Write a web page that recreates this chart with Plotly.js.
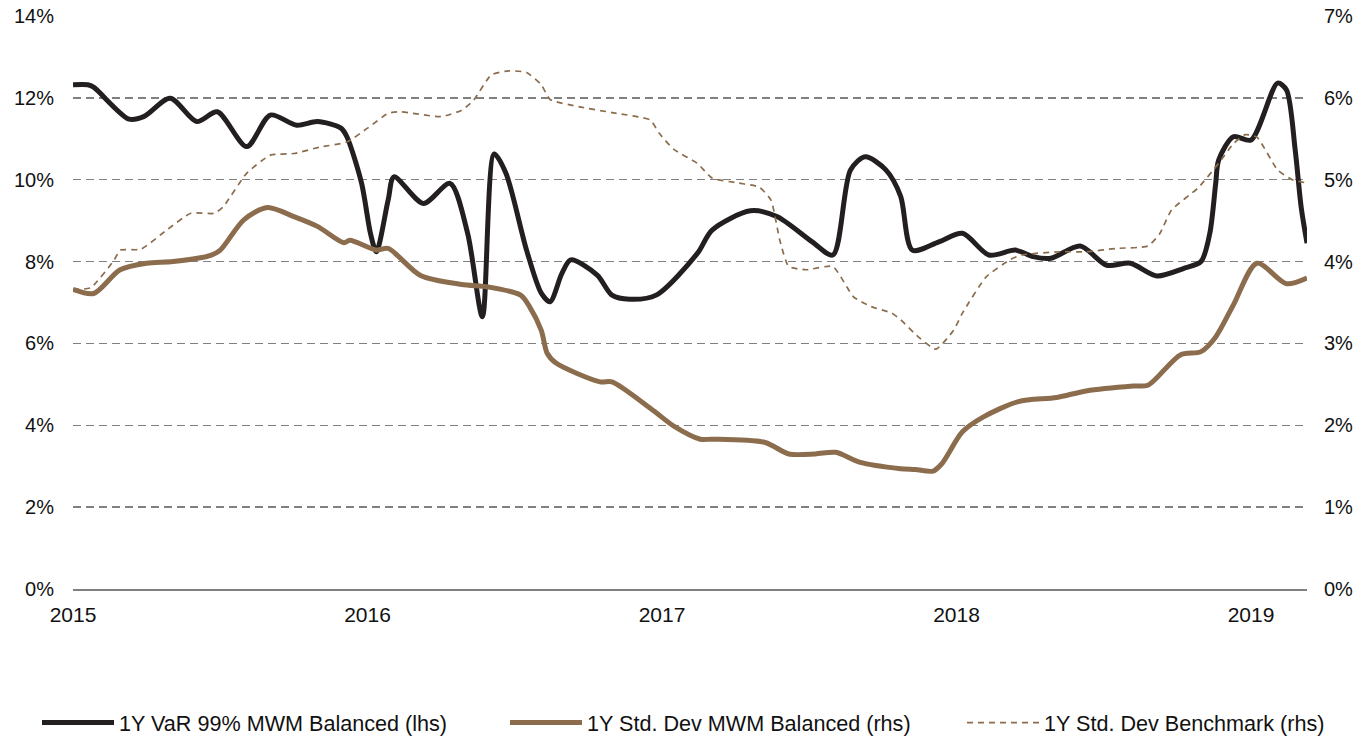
<!DOCTYPE html>
<html>
<head>
<meta charset="utf-8">
<script src="https://cdn.plot.ly/plotly-3.0.1.min.js"></script>
<style>html,body{margin:0;padding:0;background:#fff;}#chart{width:1363px;height:738px;}</style>
</head>
<body>
<div id="chart"></div>
<script>
// 1Y VaR 99% MWM Balanced (lhs), x in decimal years
const varX = [2015.00,2015.05,2015.07,2015.19,2015.24,2015.33,2015.42,2015.49,2015.59,2015.67,2015.76,2015.83,2015.91,2015.93,2015.98,2016.01,2016.03,2016.07,2016.09,2016.19,2016.28,2016.34,2016.39,2016.43,2016.47,2016.54,2016.59,2016.62,2016.66,2016.69,2016.78,2016.83,2016.89,2016.98,2017.12,2017.17,2017.30,2017.39,2017.51,2017.58,2017.64,2017.69,2017.76,2017.81,2017.85,2017.94,2018.02,2018.11,2018.20,2018.26,2018.32,2018.42,2018.51,2018.59,2018.68,2018.77,2018.83,2018.86,2018.88,2018.89,2018.94,2019.00,2019.09,2019.12,2019.15,2019.17,2019.19];
const varY = [12.32,12.32,12.26,11.48,11.54,11.99,11.42,11.66,10.81,11.58,11.33,11.42,11.26,11.05,9.91,8.69,8.24,9.50,10.07,9.42,9.91,8.69,6.65,10.63,10.16,8.28,7.23,7.02,7.71,8.04,7.67,7.18,7.08,7.18,8.20,8.77,9.24,9.10,8.48,8.16,10.24,10.56,10.24,9.60,8.28,8.48,8.69,8.16,8.28,8.12,8.08,8.38,7.91,7.96,7.65,7.83,8.00,8.69,9.91,10.48,11.05,10.97,12.36,12.20,10.72,9.34,8.45];

// 1Y Std. Dev MWM Balanced (rhs)
const sdX = [2015.00,2015.07,2015.16,2015.25,2015.34,2015.47,2015.50,2015.58,2015.66,2015.75,2015.83,2015.92,2015.94,2016.03,2016.07,2016.18,2016.32,2016.41,2016.52,2016.55,2016.59,2016.61,2016.64,2016.79,2016.83,2016.97,2017.04,2017.13,2017.17,2017.35,2017.43,2017.52,2017.59,2017.67,2017.81,2017.86,2017.92,2017.95,2018.02,2018.09,2018.21,2018.34,2018.44,2018.60,2018.65,2018.76,2018.83,2018.88,2018.94,2019.02,2019.12,2019.19];
const sdY = [3.66,3.61,3.90,3.98,4.00,4.08,4.14,4.51,4.66,4.55,4.43,4.23,4.26,4.14,4.16,3.83,3.72,3.69,3.59,3.45,3.16,2.88,2.76,2.53,2.53,2.18,1.99,1.83,1.83,1.79,1.65,1.65,1.67,1.55,1.47,1.46,1.44,1.53,1.92,2.10,2.29,2.34,2.42,2.48,2.49,2.86,2.90,3.08,3.47,3.98,3.73,3.80];

// 1Y Std. Dev Benchmark (rhs)
const bmX = [2015.00,2015.06,2015.14,2015.16,2015.23,2015.32,2015.40,2015.48,2015.51,2015.59,2015.67,2015.75,2015.84,2015.93,2016.00,2016.07,2016.11,2016.25,2016.32,2016.36,2016.42,2016.48,2016.54,2016.59,2016.62,2016.72,2016.83,2016.96,2016.99,2017.04,2017.12,2017.17,2017.26,2017.33,2017.37,2017.40,2017.43,2017.49,2017.58,2017.65,2017.71,2017.78,2017.81,2017.87,2017.93,2017.99,2018.02,2018.10,2018.18,2018.22,2018.35,2018.44,2018.54,2018.65,2018.69,2018.73,2018.82,2018.89,2018.94,2018.98,2019.02,2019.09,2019.14,2019.19];
const bmY = [3.66,3.68,4.02,4.14,4.15,4.39,4.59,4.59,4.67,5.08,5.30,5.32,5.40,5.46,5.63,5.81,5.83,5.77,5.85,5.97,6.28,6.33,6.31,6.16,5.98,5.89,5.82,5.73,5.57,5.37,5.20,5.02,4.96,4.91,4.75,4.26,3.94,3.90,3.94,3.57,3.45,3.37,3.29,3.08,2.93,3.16,3.37,3.81,4.02,4.08,4.12,4.12,4.16,4.19,4.34,4.63,4.90,5.20,5.44,5.55,5.52,5.12,5.00,4.96];

const yearTicks = [2015, 2016, 2017, 2018, 2019];
const yearLabels = ['2015', '2016', '2017', '2018', '2019'];

const traces = [
  {x: varX, y: varY, name: '1Y VaR 99% MWM Balanced (lhs)', type: 'scatter', mode: 'lines',
   line: {color: '#231f20', width: 5, shape: 'spline', smoothing: 0.8}, yaxis: 'y', legend: 'legend'},
  {x: sdX, y: sdY, name: '1Y Std. Dev MWM Balanced (rhs)', type: 'scatter', mode: 'lines',
   line: {color: '#8b6d4e', width: 5, shape: 'spline', smoothing: 0.8}, yaxis: 'y2', legend: 'legend2'},
  {x: bmX, y: bmY, name: '1Y Std. Dev Benchmark (rhs)', type: 'scatter', mode: 'lines',
   line: {color: '#8b6d4e', width: 1.7, dash: '6px,5px', shape: 'spline', smoothing: 0.5}, yaxis: 'y2', legend: 'legend3'}
];

const fam = '"Liberation Sans", Arial, sans-serif';
const yFont = {family: fam, size: 20, color: '#111'};
const xFont = {family: fam, size: 21, color: '#111'};
const lFont = {family: fam, size: 21.6, color: '#111'};

function legendAt(px) {
  return {
    orientation: 'h', x: (px - 73) / 1234, xanchor: 'left', y: -0.234, yanchor: 'middle',
    font: lFont, itemwidth: 72, bgcolor: 'rgba(0,0,0,0)'
  };
}

const layout = {
  width: 1363, height: 738,
  margin: {l: 73, r: 56, t: 16, b: 149, autoexpand: false},
  paper_bgcolor: '#fff', plot_bgcolor: '#fff',
  font: xFont,
  showlegend: true,
  hovermode: false,
  xaxis: {
    range: [2015, 2019.19], tickvals: yearTicks, ticktext: yearLabels,
    showgrid: false, zeroline: false, showline: true, linecolor: '#808080', linewidth: 1.5,
    ticks: '', ticklabelstandoff: 6, tickfont: xFont, fixedrange: true
  },
  yaxis: {
    range: [0, 14], dtick: 2, ticksuffix: '%', showgrid: true,
    gridcolor: '#808080', gridwidth: 1.5, griddash: '8px,5px',
    zeroline: false, showline: false, ticks: '', ticklabelstandoff: 18, tickfont: yFont, fixedrange: true
  },
  yaxis2: {
    range: [0, 7], dtick: 1, ticksuffix: '%', overlaying: 'y', side: 'right',
    showgrid: false, zeroline: false, showline: false, ticks: '', ticklabelstandoff: 16, tickfont: yFont, fixedrange: true
  },
  legend: legendAt(37),
  legend2: legendAt(505),
  legend3: legendAt(962)
};

Plotly.newPlot('chart', traces, layout, {displayModeBar: false, staticPlot: true});
</script>
</body>
</html>
